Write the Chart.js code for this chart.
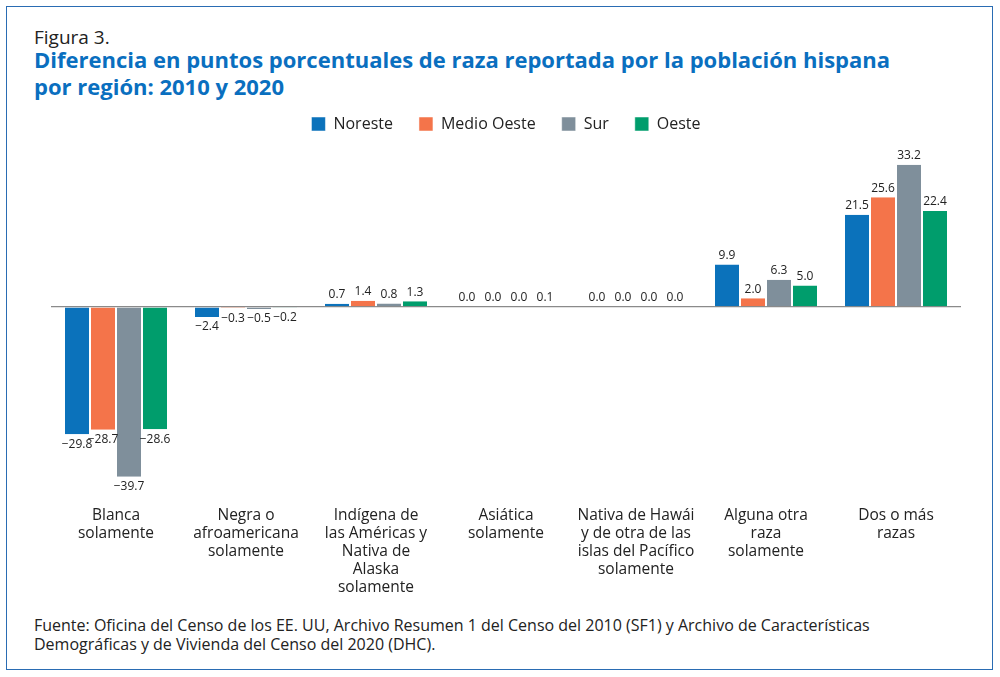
<!DOCTYPE html>
<html><head><meta charset="utf-8">
<script src="https://cdn.jsdelivr.net/npm/chart.js@4"></script>
<style>
body{margin:0;background:#fff;font-family:"Open Sans",sans-serif}
#frame{position:absolute;left:6px;top:6px;width:985px;height:662px;border:1.5px solid #2a6cb3}
#fig{position:absolute;left:34px;top:24px;font-size:19px;color:#222}
#title{position:absolute;left:34px;top:46px;font-size:22px;font-weight:bold;color:#0a6fbf;line-height:27px}
#src{position:absolute;left:34px;top:616px;font-size:16px;color:#222;line-height:19px}
#wrap{position:absolute;left:0;top:90px;width:1000px;height:515px}
</style></head><body>
<div id="frame"></div>
<div id="fig">Figura 3.</div>
<div id="title">Diferencia en puntos porcentuales de raza reportada por la población hispana<br>por región: 2010 y 2020</div>
<div id="wrap"><canvas id="c"></canvas></div>
<div id="src">Fuente: Oficina del Censo de los EE. UU, Archivo Resumen 1 del Censo del 2010 (SF1) y Archivo de Características<br>Demográficas y de Vivienda del Censo del 2020 (DHC).</div>
<script>
const categories = [
  ["Blanca", "solamente"],
  ["Negra o", "afroamericana", "solamente"],
  ["Indígena de", "las Américas y", "Nativa de", "Alaska", "solamente"],
  ["Asiática", "solamente"],
  ["Nativa de Hawái", "y de otra de las", "islas del Pacífico", "solamente"],
  ["Alguna otra", "raza", "solamente"],
  ["Dos o más", "razas"]
];
const regions = ["Noreste", "Medio Oeste", "Sur", "Oeste"];
const noreste = [-29.8, -2.4, 0.7, 0.0, 0.0, 9.9, 21.5];
const medioOeste = [-28.7, -0.3, 1.4, 0.0, 0.0, 2.0, 25.6];
const sur = [-39.7, -0.5, 0.8, 0.0, 0.0, 6.3, 33.2];
const oeste = [-28.6, -0.2, 1.3, 0.1, 0.0, 5.0, 22.4];
const colors = ["#0b72bb", "#f4744a", "#7f8f9b", "#009d6c"];

// extra room under the legend
const legendGap = {
  id: "legendGap",
  beforeInit(chart) {
    const fit = chart.legend.fit;
    chart.legend.fit = function () {
      fit.bind(chart.legend)();
      this.height += 15;
    };
  }
};

const labelsPlugin = {
  id: "labels",
  afterDatasetsDraw(chart) {
    const ctx = chart.ctx;
    ctx.save();
    ctx.fillStyle = "#222";
    ctx.font = "12px 'Open Sans'";
    ctx.textAlign = "center";
    chart.data.datasets.forEach((ds, i) => {
      chart.getDatasetMeta(i).data.forEach((bar, j) => {
        const v = ds.data[j];
        const neg = v < 0;
        ctx.textBaseline = neg ? "top" : "bottom";
        ctx.fillText((neg ? "\u2212" : "") + Math.abs(v).toFixed(1), bar.x, neg ? bar.y + 4 : bar.y - 3);
      });
    });
    ctx.font = "15.5px 'Open Sans'";
    ctx.textBaseline = "top";
    const xs = chart.scales.x;
    categories.forEach((lines, j) => {
      const x = xs.getPixelForValue(j);
      lines.forEach((l, k) => ctx.fillText(l, x, 418 + k * 18));
    });
    ctx.restore();
  }
};

new Chart(document.getElementById("c"), {
  type: "bar",
  data: {
    labels: categories,
    datasets: regions.map((r, i) => ({
      label: r,
      data: [noreste, medioOeste, sur, oeste][i],
      backgroundColor: colors[i],
      borderColor: "#ffffff",
      borderWidth: {left: 1, right: 1, top: 0, bottom: 0},
      categoryPercentage: 0.8,
      barPercentage: 1
    }))
  },
  options: {
    responsive: true,
    maintainAspectRatio: false,
    animation: false,
    layout: {padding: {left: 51, right: 39, bottom: 127, top: 0}},
    plugins: {
      tooltip: {enabled: false},
      legend: {
        labels: {boxWidth: 14, boxHeight: 14, color: "#222", font: {size: 16, family: "Open Sans"}, padding: 26}
      }
    },
    scales: {
      x: {display: false},
      y: {
        min: -40, max: 35,
        ticks: {display: false},
        border: {display: false},
        grid: {color: c => c.tick.value === 0 ? "#8a8a8a" : "transparent", lineWidth: 1.2, drawTicks: false}
      }
    }
  },
  plugins: [legendGap, labelsPlugin]
});
</script>
</body></html>
